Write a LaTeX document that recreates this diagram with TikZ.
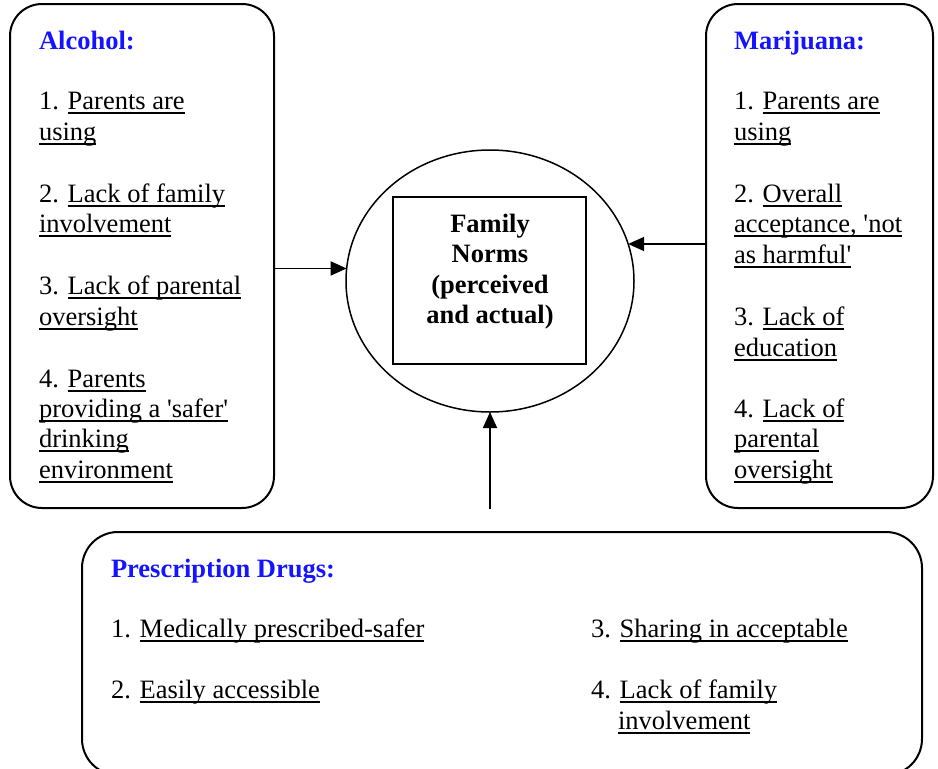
\documentclass[tikz,border=0pt]{standalone}
\usepackage{fontspec}
\newfontfamily\tnr{Liberation Serif}
\usetikzlibrary{arrows.meta,shapes.geometric}
\newcommand\myul[1]{\setbox0=\hbox{#1}\rlap{\vrule height -3pt depth 5pt width \wd0}\box0}
\newcommand\hd[1]{\textcolor{hdblue}{\bfseries #1}}
\definecolor{hdblue}{RGB}{20,20,255}
\tikzset{
  txt/.style={anchor=base west,inner sep=0pt,outer sep=0pt,font=\tnr\fontsize{26.5}{30.8}\selectfont},
  ctxt/.style={anchor=base,inner sep=0pt,outer sep=0pt,font=\tnr\bfseries\fontsize{26.5}{30.8}\selectfont},
  rbox/.style={draw,line width=2pt,rounded corners=32pt,inner sep=0pt,outer sep=0pt},
  arr/.style={line width=1.7pt,-{Triangle[length=16pt,width=14pt]}}
}
\begin{document}
\begin{tikzpicture}[x=1pt,y=-1pt]
\useasboundingbox (0,0) rectangle (938,769);
\node[rbox,minimum width=264pt,minimum height=504pt] (alc) at (142,256) {};
\node[rbox,minimum width=227pt,minimum height=504pt] (mar) at (819.5,256) {};
\node[rbox,rounded corners=36pt,minimum width=840pt,minimum height=243pt] (rx) at (502,653.5) {};
\node[draw,ellipse,line width=1.5pt,minimum width=288pt,minimum height=262pt,inner sep=0pt,outer sep=0pt] (fam) at (490,281) {};
\node[draw,line width=2pt,minimum width=193pt,minimum height=167pt,inner sep=0pt] (nb) at (489.5,280.5) {};
\foreach \y/\tx [count=\i] in {232/Family,262/Norms,293/(perceived,323/and actual)}
  \node[ctxt] (c\i) at (490,\y) {\tx};
\foreach \y/\tx [count=\i] in {49/{\hd{Alcohol:}},109/{1. \myul{Parents are}},140/{\myul{using}},202/{2. \myul{Lack of family}},232/{\myul{involvement}},294/{3. \myul{Lack of parental}},325/{\myul{oversight}},387/{4. \myul{Parents}},417/{\myul{providing a 'safer'}},447/{\myul{drinking}},478/{\myul{environment}}}
  \node[txt] (a\i) at (39,\y) {\tx};
\foreach \y/\tx [count=\i] in {49/{\hd{Marijuana:}},109/{1. \myul{Parents are}},140/{\myul{using}},202/{2. \myul{Overall}},232/{\myul{acceptance, 'not}},263/{\myul{as harmful'}},325/{3. \myul{Lack of}},356/{\myul{education}},417/{4. \myul{Lack of}},447/{\myul{parental}},478/{\myul{oversight}}}
  \node[txt] (m\i) at (734,\y) {\tx};
\node[txt] (p1) at (111,577) {\hd{Prescription Drugs:}};
\node[txt] (p2) at (111,637) {1. \myul{Medically prescribed-safer}};
\node[txt] (p3) at (111,698) {2. \myul{Easily accessible}};
\node[txt] (p4) at (591,637) {3. \myul{Sharing in acceptable}};
\node[txt] (p5) at (591,698) {4. \myul{Lack of family}};
\node[txt] (p6) at (618,729) {\myul{involvement}};
\coordinate (bs) at (490,509);
\draw[arr] (alc.east |- fam.175) -- (fam.175);
\draw[arr] (mar.west |- fam.15) -- (fam.15);
\draw[arr] (bs) -- (fam.south);
\end{tikzpicture}
\end{document}
